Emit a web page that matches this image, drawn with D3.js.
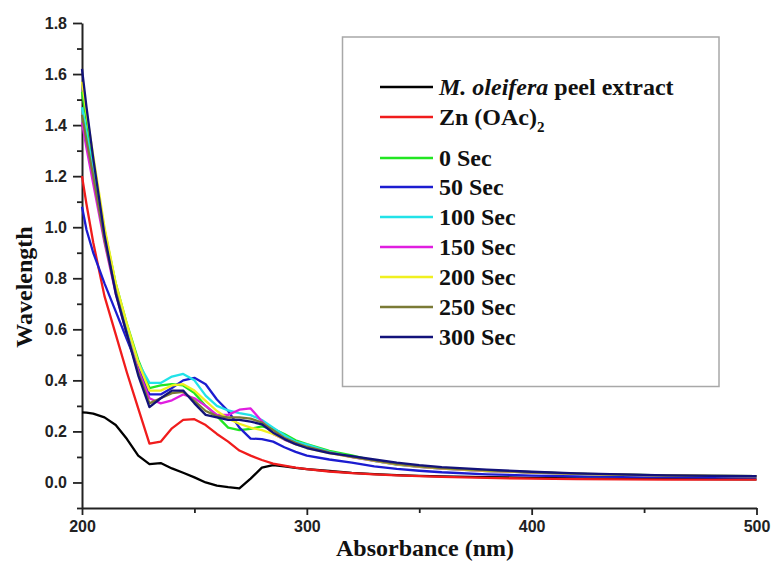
<!DOCTYPE html>
<html>
<head>
<meta charset="utf-8">
<script src="https://cdn.jsdelivr.net/npm/d3@7/dist/d3.min.js"></script>
<style>
  html, body { margin: 0; padding: 0; background: #fff; }
  svg { display: block; }
</style>
</head>
<body>
<svg id="chart" width="771" height="561"></svg>
<script>
// ---------- data ----------
const wavelengths = [200,202,205,210,215,220,225,230,235,240,245,250,255,260,265,270,275,280,285,290,295,300,310,320,330,340,350,360,380,400,420,440,460,480,500];

const peelExtract = [0.275,0.274,0.27,0.255,0.225,0.17,0.105,0.072,0.076,0.055,0.038,0.02,0.0,-0.012,-0.018,-0.023,0.015,0.058,0.068,0.063,0.057,0.052,0.045,0.038,0.033,0.029,0.026,0.024,0.021,0.018,0.016,0.015,0.014,0.013,0.012];
const znOAc =       [1.2,1.09,0.94,0.73,0.58,0.43,0.29,0.152,0.16,0.212,0.245,0.248,0.225,0.19,0.16,0.125,0.105,0.088,0.074,0.066,0.058,0.052,0.043,0.037,0.032,0.028,0.025,0.022,0.018,0.015,0.013,0.012,0.011,0.011,0.011];
const sec0 =        [1.53,1.42,1.25,0.99,0.78,0.62,0.48,0.37,0.38,0.385,0.38,0.35,0.3,0.26,0.215,0.205,0.21,0.22,0.21,0.19,0.165,0.15,0.124,0.106,0.085,0.07,0.061,0.054,0.045,0.039,0.034,0.031,0.028,0.026,0.025];
const sec50 =       [1.08,0.99,0.9,0.78,0.67,0.56,0.45,0.345,0.345,0.37,0.4,0.41,0.385,0.325,0.28,0.215,0.172,0.17,0.16,0.138,0.12,0.105,0.09,0.078,0.063,0.053,0.046,0.04,0.032,0.027,0.024,0.022,0.021,0.02,0.02];
const sec100 =      [1.47,1.37,1.22,0.97,0.76,0.6,0.47,0.39,0.39,0.415,0.425,0.4,0.34,0.3,0.282,0.272,0.264,0.245,0.215,0.185,0.16,0.148,0.12,0.1,0.085,0.072,0.062,0.055,0.046,0.04,0.034,0.03,0.028,0.026,0.025];
const sec150 =      [1.41,1.31,1.17,0.94,0.74,0.58,0.44,0.33,0.31,0.322,0.345,0.33,0.3,0.265,0.265,0.285,0.29,0.24,0.19,0.168,0.15,0.138,0.116,0.099,0.085,0.071,0.061,0.054,0.045,0.039,0.034,0.03,0.028,0.026,0.025];
const sec200 =      [1.57,1.45,1.28,1.0,0.78,0.62,0.47,0.36,0.36,0.38,0.385,0.36,0.32,0.28,0.25,0.23,0.215,0.205,0.19,0.17,0.15,0.135,0.115,0.1,0.086,0.072,0.062,0.055,0.046,0.04,0.034,0.03,0.028,0.026,0.025];
const sec250 =      [1.44,1.34,1.2,0.95,0.75,0.58,0.43,0.31,0.33,0.35,0.355,0.32,0.28,0.26,0.255,0.255,0.25,0.235,0.205,0.175,0.155,0.14,0.118,0.1,0.087,0.073,0.063,0.056,0.047,0.04,0.035,0.031,0.028,0.026,0.025];
const sec300 =      [1.62,1.47,1.27,0.97,0.74,0.58,0.42,0.295,0.33,0.36,0.36,0.31,0.265,0.255,0.245,0.245,0.238,0.228,0.195,0.17,0.15,0.135,0.115,0.103,0.09,0.078,0.068,0.06,0.05,0.042,0.036,0.032,0.028,0.026,0.025];

const seriesNames = ["M. oleifera peel extract","Zn (OAc)2","0 Sec","50 Sec","100 Sec","150 Sec","200 Sec","250 Sec","300 Sec"];
const seriesValues = [peelExtract, znOAc, sec0, sec50, sec100, sec150, sec200, sec250, sec300];
const seriesColors = ["#000000","#f01c1c","#22e622","#1c1cd0","#22e2e8","#e01ee0","#f0f020","#7a7a36","#12127a"];

const xTicks = [200,300,400,500];
const xMinorTicks = [250,350,450];
const yTicks = [0.0,0.2,0.4,0.6,0.8,1.0,1.2,1.4,1.6,1.8];
const yMinorTicks = [-0.1,0.1,0.3,0.5,0.7,0.9,1.1,1.3,1.5,1.7];

const xTitle = "Absorbance (nm)";
const yTitle = "Wavelength";

// ---------- drawing ----------
const svg = d3.select("#chart");
const x = d3.scaleLinear().domain([200,500]).range([82,756.5]);
const y = d3.scaleLinear().domain([-0.1,1.8]).range([508,23]);

const tickFont = "'Liberation Sans', Arial, sans-serif";
const serif = "'Liberation Serif', 'Times New Roman', serif";

// minor ticks
svg.append("g").attr("transform", `translate(0,${y(-0.1)})`)
  .call(d3.axisBottom(x).tickValues(xMinorTicks).tickSize(5).tickSizeOuter(0).tickFormat(""))
  .call(g => g.select(".domain").remove())
  .call(g => g.selectAll("line").attr("stroke","#222").attr("stroke-width",1.8));
svg.append("g").attr("transform", `translate(${x(200)},0)`)
  .call(d3.axisLeft(y).tickValues(yMinorTicks).tickSize(5).tickSizeOuter(0).tickFormat(""))
  .call(g => g.select(".domain").remove())
  .call(g => g.selectAll("line").attr("stroke","#222").attr("stroke-width",1.8));

// major axes
const xAxis = svg.append("g").attr("transform", `translate(0,${y(-0.1)})`)
  .call(d3.axisBottom(x).tickValues(xTicks).tickSize(7).tickSizeOuter(0).tickPadding(6).tickFormat(d3.format("d")));
const yAxis = svg.append("g").attr("transform", `translate(${x(200)},0)`)
  .call(d3.axisLeft(y).tickValues(yTicks).tickSize(9).tickSizeOuter(0).tickPadding(6).tickFormat(d3.format(".1f")));
[xAxis, yAxis].forEach(g => {
  g.select(".domain").attr("stroke","#222").attr("stroke-width",2);
  g.selectAll(".tick line").attr("stroke","#222").attr("stroke-width",1.8);
  g.selectAll(".tick text").attr("fill","#222").style("font-family",tickFont)
    .style("font-size","16px").style("font-weight","bold");
});

// lines
const line = d3.line().x((d,i) => x(wavelengths[i])).y(d => y(d)).curve(d3.curveLinear);
const lines = svg.append("g");
seriesValues.forEach((vals, k) => {
  lines.append("path").datum(vals)
    .attr("d", line).attr("fill","none")
    .attr("stroke", seriesColors[k]).attr("stroke-width", 2.3)
    .attr("stroke-linejoin","round");
});

// axis titles
svg.append("text").attr("x", 425).attr("y", 556).attr("text-anchor","middle")
  .style("font-family", serif).style("font-weight","bold").style("font-size","24px")
  .attr("fill","#111").text(xTitle);
svg.append("text").attr("transform","translate(32,287) rotate(-90)").attr("text-anchor","middle")
  .style("font-family", serif).style("font-weight","bold").style("font-size","24px")
  .attr("fill","#111").text(yTitle);

// legend
const legend = svg.append("g");
legend.append("rect").attr("x",342.5).attr("y",37).attr("width",376.5).attr("height",349.5)
  .attr("fill","none").attr("stroke","#a8a8a8").attr("stroke-width",1.5);
const rowY = [87,117,158,187,217,247,277,307,337];
seriesNames.forEach((name, k) => {
  const ry = rowY[k];
  legend.append("line").attr("x1",380).attr("x2",433).attr("y1",ry).attr("y2",ry)
    .attr("stroke", seriesColors[k]).attr("stroke-width",2.3);
  const t = legend.append("text").attr("x",439).attr("y",ry).attr("dy","0.35em")
    .style("font-family", serif).style("font-weight","bold").style("font-size","24px").attr("fill","#111");
  if (k === 0) {
    t.append("tspan").style("font-style","italic").text("M. oleifera");
    t.append("tspan").text(" peel extract");
  } else if (k === 1) {
    t.append("tspan").text("Zn (OAc)");
    t.append("tspan").attr("dy","7").style("font-size","15px").text("2");
  } else {
    t.text(name);
  }
});
</script>
</body>
</html>
